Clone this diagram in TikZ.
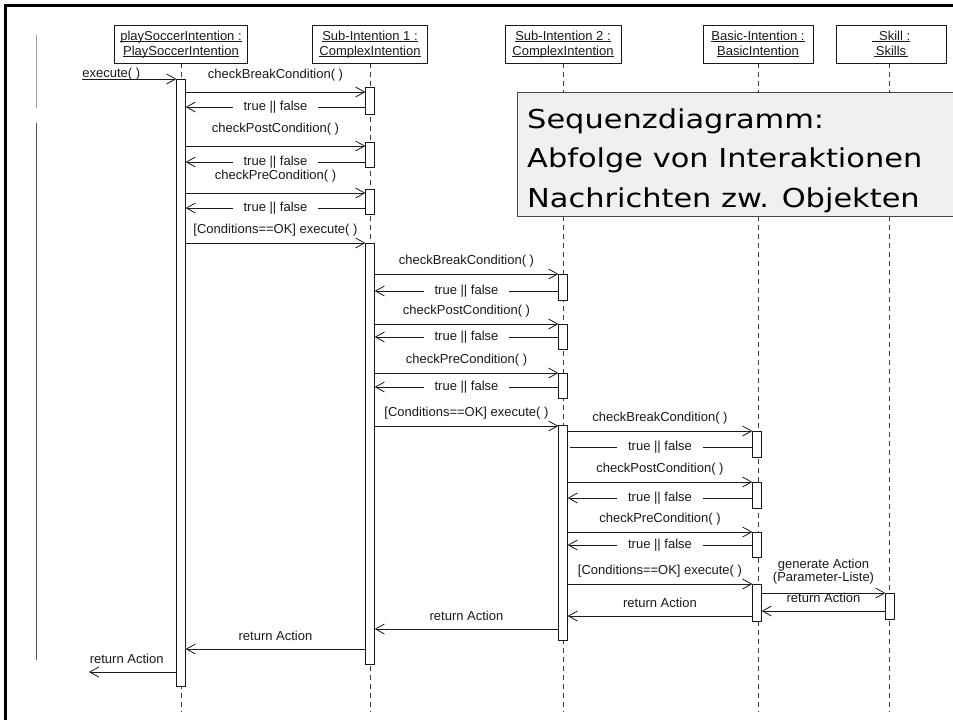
\documentclass[tikz,border=0pt]{standalone}
\usepackage{fontspec}
\setmainfont{Liberation Sans}
\newfontfamily\bigfont[FakeStretch=1.17]{DejaVu Sans}
\usetikzlibrary{arrows.meta}
\newcommand\uln[1]{\underline{\raisebox{0pt}[\height][0pt]{#1}}}
\newcommand\lblfont{\fontsize{13}{15}\selectfont}
\definecolor{ink}{HTML}{1A1A1A}
\definecolor{boxfill}{HTML}{F0F0F0}
\begin{document}
\begin{tikzpicture}[x=1pt,y=-1pt,
  hdr/.style={draw=ink, line width=0.8pt, minimum height=38pt, inner sep=0pt, align=center,
              font=\fontsize{13}{15}\selectfont, text=ink},
  bar/.style={draw=ink, fill=white, line width=0.8pt, inner sep=0pt, minimum width=8.5pt},
  life/.style={draw=ink!85, line width=0.9pt, dash pattern=on 5pt off 4pt},
  msg/.style={draw=ink, line width=0.8pt, -{Straight Barb[length=9pt,width=10pt,line width=0.8pt]}},
  plainmsg/.style={draw=ink, line width=0.8pt},
  lab/.style={font=\lblfont, text=ink, text height=9.5pt, text depth=2.7pt, inner sep=0pt},
  callab/.style={lab, midway, above=6pt},
  retlab/.style={lab, midway, above=5pt},
  tf/.style={lab, midway, fill=white, inner xsep=11pt, inner ysep=1pt},
  bigtext/.style={anchor=base west, inner sep=0pt, text=black, font=\bigfont\fontsize{26}{39.5}\selectfont}
]
\useasboundingbox (0,0) rectangle (953,720);
\fill[white] (0,0) rectangle (953,720);

% frame
\coordinate (fTL) at (5,5);
\coordinate (fTR) at (960,5);
\coordinate (fBL) at (5,725);
\draw[line width=3pt, black] (fTR) -- (fTL) -- (fBL);

% left gray marks
\coordinate (g1a) at (36,35);
\coordinate (g1b) at (36,108);
\coordinate (g2a) at (36,123);
\coordinate (g2b) at (36,660);
\draw[gray!75, line width=1pt] (g1a) -- (g1b);
\draw[gray!65!black, line width=1pt] (g2a) -- (g2b);

% headers
\node[hdr, minimum width=133pt] (hP) at (181,44) {\uln{playSoccerIntention :}\\\uln{PlaySoccerIntention}};
\node[hdr, minimum width=115pt] (hS1) at (370,44) {\uln{Sub-Intention 1 :}\\\uln{ComplexIntention}};
\node[hdr, minimum width=116pt] (hS2) at (563,44) {\uln{Sub-Intention 2 :}\\\uln{ComplexIntention}};
\node[hdr, minimum width=110pt] (hB) at (758,44) {\uln{Basic-Intention :}\\\uln{BasicIntention}};
\node[hdr, minimum width=110pt] (hK) at (891,44) {\uln{\ \ Skill :}\\\uln{\,Skills\,}};

% lifelines
\coordinate (eP) at (181,712);
\coordinate (eS1) at (370,712);
\coordinate (eS2) at (563,712);
\coordinate (eB) at (758,712);
\coordinate (eK) at (889,712);
\draw[life] (hP.south) -- (eP);
\draw[life] (hS1.south) -- (eS1);
\draw[life] (hS2.south) -- (eS2);
\draw[life] (hB.south) -- (eB);
\draw[life] (hK.south -| eK) -- (eK);

% text box
\coordinate (tbA) at (517,92);
\coordinate (tbB) at (960,216);
\draw[draw=ink!80, fill=boxfill, line width=0.9pt] (tbA) rectangle (tbB);
\node[bigtext] (t1) at (527,128) {Sequenzdiagramm:};
\node[bigtext] (t2) at (527,167.5) {Abfolge von Interaktionen};
\node[bigtext] (t3) at (527,207) {Nachrichten zw. Objekten};

% activation bars
\node[bar, minimum height=607pt] (P) at (181,382.5) {};
\node[bar, minimum height=27pt] (S1a) at (370,100.5) {};
\node[bar, minimum height=25pt] (S1b) at (370,154.5) {};
\node[bar, minimum height=25pt] (S1c) at (370,201.5) {};
\node[bar, minimum height=421pt] (S1) at (370,453.5) {};
\node[bar, minimum height=26pt] (S2a) at (563,287) {};
\node[bar, minimum height=25pt] (S2b) at (563,336.5) {};
\node[bar, minimum height=25pt] (S2c) at (563,385.5) {};
\node[bar, minimum height=215pt] (S2) at (563,532.5) {};
\node[bar, minimum height=26pt] (Ba) at (757,444) {};
\node[bar, minimum height=26pt] (Bb) at (757,495) {};
\node[bar, minimum height=25pt] (Bc) at (757,544.5) {};
\node[bar, minimum height=37pt] (B) at (757,602.5) {};
\node[bar, minimum height=26pt] (K) at (890,606) {};

% incoming execute
\coordinate (ex) at (82,79);
\draw[msg] (ex) -- node[lab, pos=0, anchor=base west, yshift=2pt]{execute( )} (P.west |- 0,79);

% playSoccer -> Sub1
\draw[msg] (P.east |- 0,92) -- node[callab, above=4pt]{checkBreakCondition( )} (S1a.west |- 0,92);
\draw[msg] (S1a.west |- 0,107) -- node[tf]{true || false} (P.east |- 0,107);
\draw[msg] (P.east |- 0,146) -- node[callab, above=4pt]{checkPostCondition( )} (S1b.west |- 0,146);
\draw[msg] (S1b.west |- 0,162) -- node[tf]{true || false} (P.east |- 0,162);
\draw[msg] (P.east |- 0,193) -- node[callab, above=4pt]{checkPreCondition( )} (S1c.west |- 0,193);
\draw[msg] (S1c.west |- 0,208) -- node[tf]{true || false} (P.east |- 0,208);
\draw[msg] (P.east |- 0,243) -- node[callab]{[Conditions==OK] execute( )} (S1.west |- 0,243);

% Sub1 -> Sub2
\draw[msg] (S1.east |- 0,274) -- node[callab]{checkBreakCondition( )} (S2a.west |- 0,274);
\draw[msg] (S2a.west |- 0,291) -- node[tf]{true || false} (S1.east |- 0,291);
\draw[msg] (S1.east |- 0,324) -- node[callab]{checkPostCondition( )} (S2b.west |- 0,324);
\draw[msg] (S2b.west |- 0,337) -- node[tf]{true || false} (S1.east |- 0,337);
\draw[msg] (S1.east |- 0,373) -- node[callab]{checkPreCondition( )} (S2c.west |- 0,373);
\draw[msg] (S2c.west |- 0,387) -- node[tf]{true || false} (S1.east |- 0,387);
\draw[msg] (S1.east |- 0,426) -- node[callab]{[Conditions==OK] execute( )} (S2.west |- 0,426);

% Sub2 -> Basic
\draw[msg] (S2.east |- 0,431) -- node[callab]{checkBreakCondition( )} (Ba.west |- 0,431);
\draw[plainmsg, shorten >=2pt] (Ba.west |- 0,447) -- node[tf]{true || false} (S2.east |- 0,447);
\draw[msg] (S2.east |- 0,482) -- node[callab]{checkPostCondition( )} (Bb.west |- 0,482);
\draw[msg] (Bb.west |- 0,498) -- node[tf]{true || false} (S2.east |- 0,498);
\draw[msg] (S2.east |- 0,532) -- node[callab]{checkPreCondition( )} (Bc.west |- 0,532);
\draw[msg] (Bc.west |- 0,545) -- node[tf]{true || false} (S2.east |- 0,545);
\draw[msg] (S2.east |- 0,584) -- node[callab]{[Conditions==OK] execute( )} (B.west |- 0,584);

% Basic -> Skill
\draw[msg] (B.east |- 0,593) -- node[midway, above=8pt, inner sep=0pt, align=center, text=ink,
   font=\fontsize{13}{13}\selectfont]{generate Action\\(Parameter-Liste)} (K.west |- 0,593);
\draw[msg] (K.west |- 0,611) -- node[retlab]{return Action} (B.east |- 0,611);

% returns
\draw[msg] (B.west |- 0,616) -- node[retlab]{return Action} (S2.east |- 0,616);
\draw[msg] (S2.west |- 0,629) -- node[retlab]{return Action} (S1.east |- 0,629);
\draw[msg] (S1.west |- 0,649) -- node[retlab]{return Action} (P.east |- 0,649);
\coordinate (out) at (89,672);
\draw[msg] (P.west |- 0,672) -- node[retlab, xshift=-6pt]{return Action} (out);
\end{tikzpicture}
\end{document}
